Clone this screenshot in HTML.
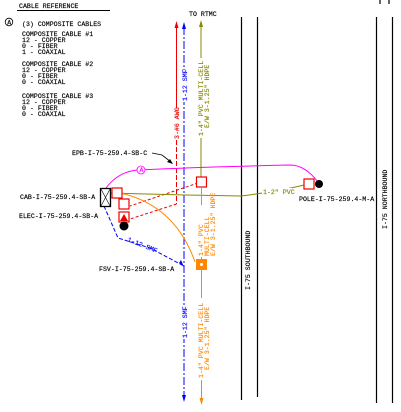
<!DOCTYPE html>
<html><head><meta charset="utf-8"><style>
html,body{margin:0;padding:0;background:#fff;}
svg{display:block;}
text{font-family:"Liberation Mono",monospace;font-size:6.6px;stroke:currentColor;stroke-width:0.15px;}
</style></head><body>
<svg width="401" height="412" viewBox="0 0 401 412" xmlns="http://www.w3.org/2000/svg">
<g>
<text x="19" y="8" font-size="6.8">CABLE REFERENCE</text>
<line x1="17" y1="10.5" x2="110" y2="10.5" stroke="#000" stroke-width="1"/>
<circle cx="9" cy="22" r="3.8" fill="none" stroke="#000" stroke-width="0.8"/>
<text x="7.3" y="24.3" font-size="5">A</text>
<text x="22" y="26">(3) COMPOSITE CABLES</text>
<text x="22" y="36">COMPOSITE CABLE #1</text>
<text x="22" y="42">12 - COPPER</text>
<text x="22" y="48">0 - FIBER</text>
<text x="22" y="54">1 - COAXIAL</text>
<text x="22" y="66">COMPOSITE CABLE #2</text>
<text x="22" y="72">12 - COPPER</text>
<text x="22" y="78">0 - FIBER</text>
<text x="22" y="84">0 - COAXIAL</text>
<text x="22" y="98">COMPOSITE CABLE #3</text>
<text x="22" y="104">12 - COPPER</text>
<text x="22" y="110">0 - FIBER</text>
<text x="22" y="116">0 - COAXIAL</text>
</g>
<text x="189" y="16">TO RTMC</text>
<g stroke="#000" stroke-width="1.2">
<line x1="241.5" y1="17" x2="241.5" y2="400"/>
<line x1="257.5" y1="17" x2="257.5" y2="397"/>
<line x1="376.5" y1="17" x2="376.5" y2="403"/>
<line x1="392.5" y1="17" x2="392.5" y2="403"/>
<line x1="380" y1="0" x2="380" y2="4"/><line x1="389" y1="0" x2="389" y2="4"/>
</g>
<text transform="translate(250,290) rotate(-90)">I-75 SOUTHBOUND</text>
<text transform="translate(387,229) rotate(-90)">I-75 NORTHBOUND</text>
<g stroke="#e00" fill="none" stroke-width="1">
<line x1="176.5" y1="26" x2="176.5" y2="140"/>
<line x1="176.5" y1="140" x2="176.5" y2="204" stroke-dasharray="5,2"/>
<line x1="176.5" y1="204" x2="130" y2="219" stroke-dasharray="3,2"/>
<line x1="198" y1="183" x2="130" y2="206" stroke-dasharray="3,2"/>
</g>
<polygon points="176.5,21 174.5,28 178.5,28" fill="#e00"/>
<rect x="173" y="108" width="7" height="32" fill="#fff"/>
<text transform="translate(179,139) rotate(-90)" font-size="6" fill="#e00" color="#e00">3-#6 AWG</text>
<g stroke="#00f" fill="none" stroke-width="1">
<line x1="184" y1="27" x2="184" y2="400" stroke-dasharray="8,2,2,2"/>
<path d="M104,206 L118,238 L150,248 L182,265" stroke-dasharray="4,2"/>
</g>
<polygon points="184,22 182,29 186,29" fill="#00f"/>
<polygon points="184,402 182,395 186,395" fill="#00f"/>
<polygon points="184,267 179,263 181,260" fill="#00f"/>
<rect x="181" y="70" width="6" height="32" fill="#fff"/>
<text transform="translate(187,101) rotate(-90)" font-size="6" fill="#00f" color="#00f">1-12 SMF</text>
<rect x="181" y="306" width="6" height="33" fill="#fff"/>
<text transform="translate(187,338) rotate(-90)" font-size="6" fill="#00f" color="#00f">1-12 SMF</text>
<text transform="translate(127,241) rotate(22)" font-size="6" fill="#00f" color="#00f">1-12 SMF</text>
<g stroke="#880" fill="none" stroke-width="1">
<line x1="201" y1="22" x2="201" y2="178"/>
<path d="M111,193 Q180,195 241,196 Q280,191 304,185"/>
</g>
<polygon points="201,20 199,27 203,27" fill="#880"/>
<rect x="197" y="58" width="20" height="80" fill="#fff"/>
<text transform="translate(203,136) rotate(-90)" font-size="6" fill="#880" color="#880">1-4" PVC MULTI-CELL</text>
<text transform="translate(209,128) rotate(-90)" font-size="5.5" fill="#880" color="#880">E/W 3-1.25" HDPE</text>
<rect x="262" y="188" width="30" height="8" fill="#fff"/>
<text x="263" y="194" font-size="6" fill="#880" color="#880">1-2" PVC</text>
<g stroke="#f80" fill="none" stroke-width="1">
<line x1="201.5" y1="188" x2="201.5" y2="403"/>
<path d="M120,193 Q175,205 195,262"/>
</g>
<polygon points="201.5,405 199.5,398 203.5,398" fill="#f80"/>
<rect x="197" y="205" width="20" height="52" fill="#fff"/>
<text transform="translate(203,256) rotate(-90)" font-size="6" fill="#f80" color="#f80">1-4" PVC</text>
<text transform="translate(209,256) rotate(-90)" font-size="6" fill="#f80" color="#f80">MULTI-CELL</text>
<text transform="translate(215,256) rotate(-90)" font-size="5.5" fill="#f80" color="#f80">E/W 3-1.25" HDPE</text>
<rect x="197" y="298" width="20" height="82" fill="#fff"/>
<text transform="translate(203,378) rotate(-90)" font-size="6" fill="#f80" color="#f80">1-4" PVC MULTI-CELL</text>
<text transform="translate(209,370) rotate(-90)" font-size="5.5" fill="#f80" color="#f80">E/W 3-1.25" HDPE</text>
<rect x="196" y="259" width="11" height="11" fill="#f80"/>
<circle cx="201.5" cy="264.5" r="1.5" fill="#fff"/>
<path d="M106,188 Q118,172 137,170 Q200,167 290,165 Q305,165 318,182" stroke="#f0f" fill="none" stroke-width="1"/>
<circle cx="141" cy="170" r="4" fill="#fff" stroke="#f0f" stroke-width="0.8"/>
<text x="139.5" y="172.2" font-size="5" fill="#f0f" color="#f0f">A</text>
<g>
<rect x="100.5" y="188.5" width="10" height="18" fill="#fff" stroke="#000" stroke-width="1.3"/>
<path d="M101,189 L110,206 M110,189 L101,206" stroke="#000" stroke-width="0.6"/>
</g>
<g fill="#fff" stroke="#e00" stroke-width="1.2">
<rect x="112" y="188" width="10" height="10"/>
<rect x="119" y="199" width="10" height="10"/>
<rect x="119" y="212" width="10" height="10"/>
<rect x="196.5" y="177" width="10" height="10"/>
<rect x="304" y="179" width="10" height="10"/>
</g>
<polygon points="124,214 120,221 128,221" fill="#e00"/>
<circle cx="124" cy="226" r="4.5" fill="#000"/>
<circle cx="319" cy="184" r="4" fill="#000"/>
<g>
<text x="72" y="155">EPB-I-75-259.4-SB-C</text>
<path d="M152,153 L162,155 L171,162" stroke="#000" fill="none" stroke-width="0.8"/>
<polygon points="173,164 167,162 170,159" fill="#000"/>
<text x="20" y="199">CAB-I-75-259.4-SB-A</text>
<text x="19" y="218">ELEC-I-75-259.4-SB-A</text>
<text x="99" y="271">FSV-I-75-259.4-SB-A</text>
<text x="299" y="201">POLE-I-75-259.4-M-A</text>
</g>
</svg>
</body></html>
